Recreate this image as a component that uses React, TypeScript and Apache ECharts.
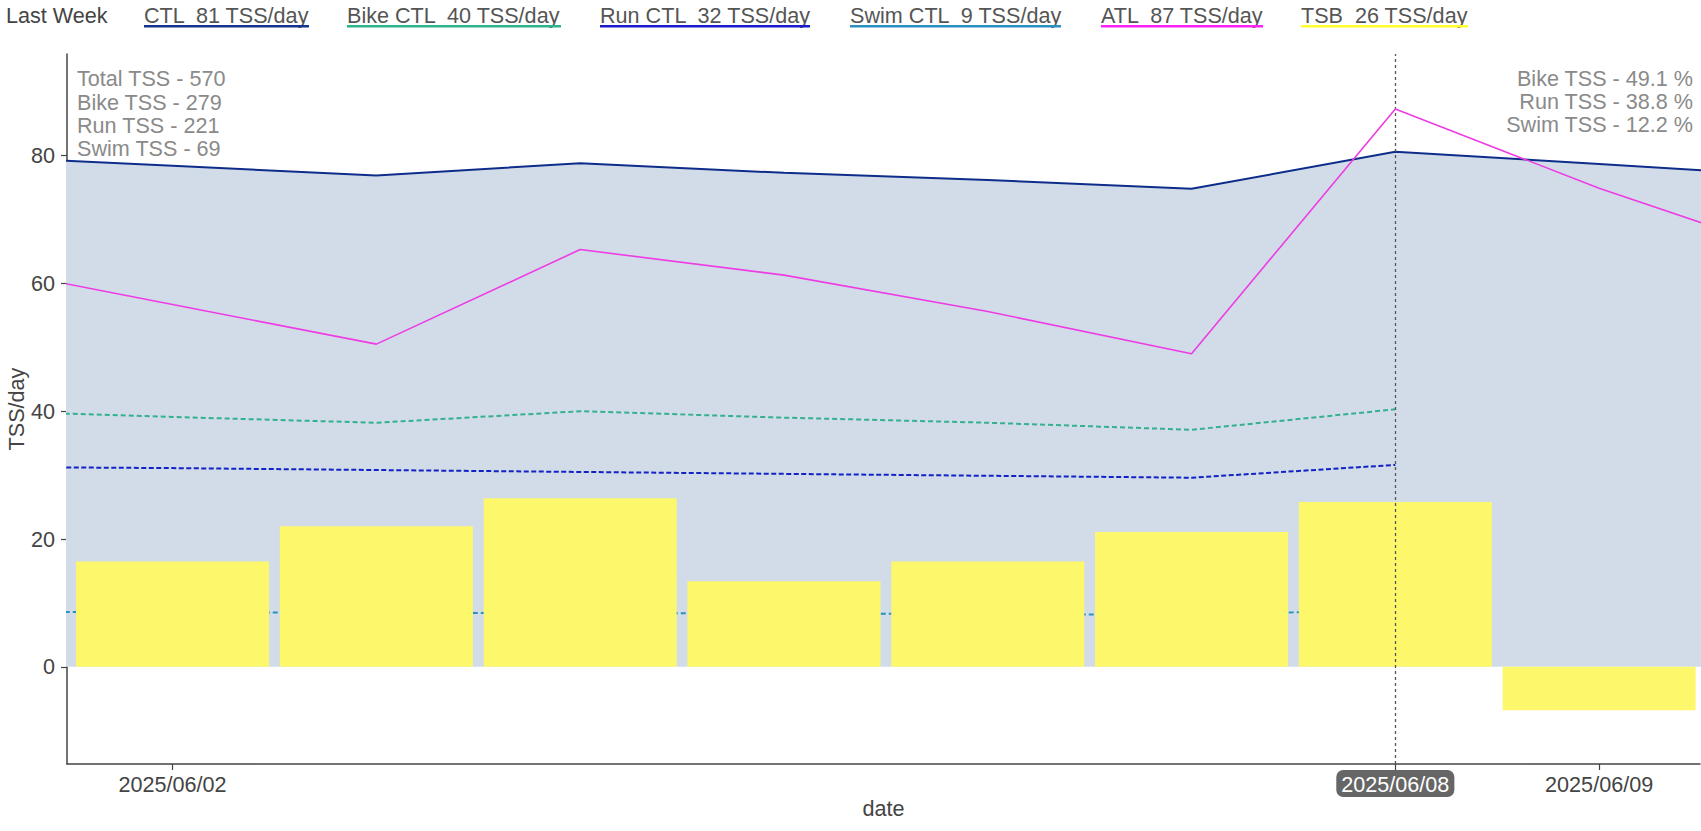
import React, { useEffect, useRef } from "react";
import * as echarts from "echarts";

// ---- data ----
const dates = [
  "2025/06/01", "2025/06/02", "2025/06/03", "2025/06/04", "2025/06/05",
  "2025/06/06", "2025/06/07", "2025/06/08", "2025/06/09", "2025/06/10",
];
const ctl = [79.9, 78.4, 76.9, 78.8, 77.3, 76.2, 74.8, 80.6, 78.7, 76.7];
const atl = [62.9, 56.7, 50.5, 65.3, 61.3, 55.6, 49.0, 87.3, 74.9, 64.1];
const sportDates = dates.slice(0, 8);
const bikeCtl = [40.1, 39.1, 38.2, 40.0, 39.0, 38.2, 37.1, 40.3];
const runCtl = [31.3, 31.1, 30.8, 30.5, 30.2, 29.9, 29.6, 31.6];
const swimCtl = [8.65, 8.55, 8.45, 8.4, 8.35, 8.25, 8.15, 8.9];
const tsbDates = dates.slice(1, 9);
const tsb = [16.5, 22.0, 26.4, 13.4, 16.5, 21.1, 25.8, -6.8];

const yTicks = [0, 20, 40, 60, 80];
const xTickDates = ["2025/06/02", "2025/06/08", "2025/06/09"];
const highlightDate = "2025/06/08";

const legendTitle = "Last Week";
const legendLabels = [
  "CTL  81 TSS/day",
  "Bike CTL  40 TSS/day",
  "Run CTL  32 TSS/day",
  "Swim CTL  9 TSS/day",
  "ATL  87 TSS/day",
  "TSB  26 TSS/day",
];
const summaryLeft = ["Total TSS - 570", "Bike TSS - 279", "Run TSS - 221", "Swim TSS - 69"];
const summaryRight = ["Bike TSS - 49.1 %", "Run TSS - 38.8 %", "Swim TSS - 12.2 %"];

// ---- styles / layout ----
const FONT = '"Liberation Sans", Arial, Helvetica, sans-serif';
const FS = 21.6;
const C_CTL = "#0e2d8a";
const C_FILL = "#d2dce9";
const C_BIKE = "#33b08e";
const C_RUN = "#1322c4";
const C_SWIM = "#2a90c2";
const C_ATL = "#ee3ce4";
const C_TSB = "#fdf86b";
const legendColors = ["#14338f", "#2db48c", "#1a1ccc", "#2a90c2", "#ff22f4", "#ffff2a"];
const legendSpans = [
  [144, 309],
  [347, 561],
  [600, 810],
  [850, 1061],
  [1101, 1263],
  [1301, 1468],
];

const idx = (d: string) => dates.indexOf(d);
const pairs = (ds: string[], vs: number[]) => vs.map((v, i) => [idx(ds[i]), v]);

function txt(text: string, x: number, y: number, fill: string, align: string) {
  return {
    type: "text",
    x,
    y,
    style: {
      text,
      fill,
      fontSize: FS,
      fontFamily: FONT,
      align,
      verticalAlign: "middle",
      textAlign: align,
      textVerticalAlign: "middle",
    },
  };
}

export default function App() {
  const ref = useRef<HTMLDivElement>(null);
  useEffect(() => {
    document.body.style.margin = "0";
    const chart = echarts.init(ref.current!, null, { renderer: "svg" });
    const tickIdx = xTickDates.map(idx);
    const graphics: any[] = [];
    graphics.push(txt(legendTitle, 6, 15.5, "#444", "left"));
    legendLabels.forEach((lab, i) => {
      const [x0, x1] = legendSpans[i];
      graphics.push(txt(lab, x0, 15.5, "#555", "left"));
      graphics.push({
        type: "rect",
        shape: { x: x0, y: 25, width: x1 - x0, height: 2.5 },
        style: { fill: legendColors[i] },
      });
    });
    summaryLeft.forEach((t, i) => {
      graphics.push(txt(t, 77, 78.7 + i * 23.4, "#8a8a8a", "left"));
    });
    summaryRight.forEach((t, i) => {
      graphics.push(txt(t, 1693, 78 + i * 23.4, "#8a8a8a", "right"));
    });

    const option: any = {
      animation: false,
      backgroundColor: "#fff",
      textStyle: { fontFamily: FONT },
      grid: { left: 67, right: 1, top: 54, bottom: 67, outerBoundsMode: "none" },
      xAxis: {
        type: "value",
        min: 0.482,
        max: 8.495,
        name: "date",
        nameLocation: "middle",
        nameGap: 33,
        nameMoveOverlap: false,
        nameTextStyle: { fontSize: FS, color: "#444", fontFamily: FONT },
        axisLine: { show: true, onZero: false, lineStyle: { color: "#444", width: 1.5 } },
        axisTick: { show: true, length: 6, customValues: tickIdx, lineStyle: { color: "#444", width: 1.2 } },
        axisLabel: {
          customValues: tickIdx,
          margin: 6,
          formatter: (v: number) => {
            const d = dates[Math.round(v)];
            return d === highlightDate ? `{hl|${d}}` : `{n|${d}}`;
          },
          rich: {
            hl: {
              backgroundColor: "#666",
              color: "#fff",
              borderRadius: 7,
              padding: [3, 5, 2, 5],
              fontSize: FS,
              fontFamily: FONT,
            },
            n: { color: "#444", padding: [3, 5, 2, 5], fontSize: FS, fontFamily: FONT },
          },
        },
        splitLine: { show: false },
      },
      yAxis: {
        type: "value",
        min: -15.2,
        max: 95.9,
        name: "TSS/day",
        nameLocation: "middle",
        nameGap: 40,
        nameMoveOverlap: false,
        nameTextStyle: { fontSize: FS, color: "#444", fontFamily: FONT },
        axisLine: { show: true, onZero: false, lineStyle: { color: "#444", width: 1.5 } },
        axisTick: { show: true, length: 6, customValues: yTicks, lineStyle: { color: "#444", width: 1.2 } },
        axisLabel: { customValues: yTicks, margin: 12, fontSize: FS, color: "#444", fontFamily: FONT },
        splitLine: { show: false },
      },
      graphic: graphics,
      series: [
        {
          name: "CTL",
          type: "line",
          data: pairs(dates, ctl),
          showSymbol: false,
          lineStyle: { color: C_CTL, width: 2 },
          areaStyle: { color: C_FILL, opacity: 1 },
          clip: true,
          z: 1,
        },
        {
          name: "Swim CTL",
          type: "line",
          data: pairs(sportDates, swimCtl),
          showSymbol: false,
          lineStyle: { color: C_SWIM, width: 2, type: [5, 3] },
          clip: true,
          z: 2,
        },
        {
          name: "TSB",
          type: "bar",
          data: pairs(tsbDates, tsb),
          barWidth: 193,
          itemStyle: { color: C_TSB },
          z: 3,
        },
        {
          name: "Bike CTL",
          type: "line",
          data: pairs(sportDates, bikeCtl),
          showSymbol: false,
          lineStyle: { color: C_BIKE, width: 2, type: [5, 3] },
          clip: true,
          z: 4,
        },
        {
          name: "Run CTL",
          type: "line",
          data: pairs(sportDates, runCtl),
          showSymbol: false,
          lineStyle: { color: C_RUN, width: 2, type: [5, 2.5] },
          clip: true,
          z: 4,
        },
        {
          name: "ATL",
          type: "line",
          data: pairs(dates, atl),
          showSymbol: false,
          lineStyle: { color: C_ATL, width: 1.6 },
          clip: true,
          z: 5,
          markLine: {
            silent: true,
            symbol: ["none", "none"],
            label: { show: false },
            lineStyle: { color: "#555", width: 1.3, type: [3, 3] },
            data: [{ xAxis: idx(highlightDate) }],
          },
        },
      ],
    };
    chart.setOption(option);
    return () => chart.dispose();
  }, []);
  return <div ref={ref} style={{ width: 1701, height: 831 }} />;
}
